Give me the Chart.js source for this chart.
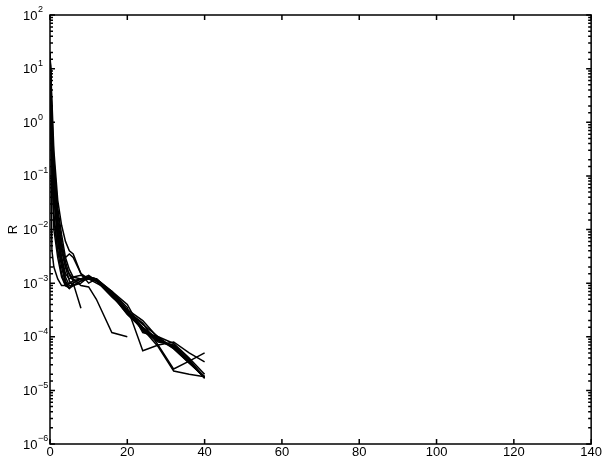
<!DOCTYPE html>
<html>
<head>
<meta charset="utf-8">
<script src="https://cdn.jsdelivr.net/npm/chart.js@4"></script>
<style>
  body { margin: 0; background: #fff; }
</style>
</head>
<body>
<canvas id="myChart" width="603" height="462"></canvas>
<script>
// iteration (x) values shared by all runs
const xs = [0, 0.5, 1, 2, 3, 4, 5, 6, 8, 10, 12, 16, 20, 24, 28, 32, 36, 40]

// residual R for each run
const r1 = [20, 0.6, 0.06, 0.008, 0.003, 0.0013, 0.0009, 0.0009, 0.0011, 0.0013, 0.0012, 6.5e-4, 2.8e-4, 1.5e-4, 9e-5, 6.5e-5, 3.6e-5, 1.7e-5]
const r2 = [18, 0.4, 0.04, 0.006, 0.002, 0.001, 0.0008, 0.001, 0.0012, 0.0012, 0.0011, 6e-4, 2.6e-4, 1.4e-4, 8.5e-5, 6.8e-5, 3.4e-5, 1.7e-5]
const r3 = [20, 1.0, 0.12, 0.015, 0.005, 0.002, 0.0011, 0.0009, 0.001, 0.0013, 0.0012, 7e-4, 3.2e-4, 2e-4, 9.5e-5, 6.2e-5, 3.5e-5, 1.8e-5]
const r4 = [15, 0.3, 0.02, 0.004, 0.0015, 0.0009, 0.0008, 0.001, 0.0012, 0.0014, 0.0011, 5.5e-4, 3e-4, 1.3e-4, 8e-5, 7e-5, 3.8e-5, 1.7e-5]
const r5 = [20, 2.5, 0.3, 0.035, 0.012, 0.006, 0.004, 0.0035, 0.0015, 0.001, 0.0012, 6e-4, 2.9e-4, 1.7e-4, 1e-4, 6e-5, 3.2e-5, 1.8e-5]
const r6 = [10, 0.15, 0.01, 0.003, 0.0013, 0.0009, 0.001, 0.001, 3.4e-4]
const r7 = [20, 0.8, 0.09, 0.012, 0.004, 0.002, 0.0015, 0.0012, 0.0009, 8.5e-4, 5e-4, 1.2e-4, 1e-4]
const r8 = [20, 0.7, 0.07, 0.01, 0.003, 0.0015, 0.0012, 0.0013, 0.0014, 0.0012, 0.001, 7e-4, 3.5e-4, 5.5e-5, 7e-5, 8e-5, 5e-5, 3.4e-5]
const r9 = [20, 0.5, 0.05, 0.007, 0.0025, 0.0011, 0.0008, 0.0009, 0.0011, 0.0012, 0.0012, 6e-4, 2.7e-4, 1.4e-4, 6.5e-5, 2.3e-5, 2e-5, 1.8e-5]
const r10 = [20, 0.9, 0.1, 0.02, 0.006, 0.0025, 0.0014, 0.0011, 0.0012, 0.0013, 0.0011, 6.5e-4, 3e-4, 1.8e-4, 7e-5, 2.5e-5, 3.5e-5, 5e-5]
const r11 = [20, 1.5, 0.2, 0.025, 0.008, 0.003, 0.0018, 0.0013, 0.0012, 0.0013, 0.0012, 7e-4, 4e-4, 1.2e-4, 1e-4, 7.5e-5, 4e-5, 2e-5]
const r12 = [20, 0.2, 0.015, 0.004, 0.0025, 0.003, 0.0035, 0.003, 0.0015, 0.0012, 0.0011, 6e-4, 2.8e-4, 1.4e-4, 9e-5, 6e-5, 3.3e-5, 1.7e-5]
const r13 = [20, 0.004, 0.002, 0.0012, 0.0009, 0.0009, 0.001, 0.0011, 0.0012, 0.0013, 0.0011, 6e-4, 3e-4, 1.5e-4, 8.5e-5, 6.5e-5, 3.5e-5, 1.7e-5]

const runs = [r1, r2, r3, r4, r5, r6, r7, r8, r9, r10, r11, r12, r13]

// axis ticks
const xTicks = [0, 20, 40, 60, 80, 100, 120, 140]
const yDecades = [-6, -5, -4, -3, -2, -1, 0, 1, 2]

const fam = 'Liberation Sans, Arial, sans-serif'

function isDecade(v) {
    let e = Math.log10(v)
    return Math.abs(e - Math.round(e)) < 1e-6
}

// matlab style box, inward ticks on all sides, 10^n labels with raised exponent
const boxTicks = {
    id: 'boxTicks',
    afterDatasetsDraw(chart) {
        const ctx = chart.ctx
        const a = chart.chartArea
        const x = chart.scales.x, y = chart.scales.y
        ctx.save()
        ctx.strokeStyle = '#000'
        ctx.lineWidth = 1.5
        ctx.strokeRect(a.left, a.top, a.right - a.left, a.bottom - a.top)
        ctx.beginPath()
        x.ticks.forEach(t => {
            let px = x.getPixelForValue(t.value)
            ctx.moveTo(px, a.bottom); ctx.lineTo(px, a.bottom - 5)
            ctx.moveTo(px, a.top); ctx.lineTo(px, a.top + 5)
        })
        y.ticks.forEach(t => {
            let len = isDecade(t.value) ? 5 : 3
            let py = y.getPixelForValue(t.value)
            ctx.moveTo(a.left, py); ctx.lineTo(a.left + len, py)
            ctx.moveTo(a.right, py); ctx.lineTo(a.right - len, py)
        })
        ctx.stroke()

        // decade labels
        ctx.fillStyle = '#000'
        ctx.textAlign = 'left'
        ctx.textBaseline = 'middle'
        yDecades.forEach(e => {
            let py = y.getPixelForValue(Math.pow(10, e))
            ctx.font = '13px ' + fam
            ctx.fillText('10', 23, py + 1)
            let w = ctx.measureText('10').width
            ctx.font = '9px ' + fam
            ctx.fillText(String(e).replace('-', '\u2212'), 23 + w + 0.5, py - 5)
        })
        ctx.restore()
    }
}

new Chart("myChart", {
    type: "line",
    data: {
        datasets: runs.map(r => ({
            data: r.map((v, i) => ({ x: xs[i], y: v })),
            borderColor: '#000',
            borderWidth: 1.5,
            pointRadius: 0,
            tension: 0,
            fill: false
        }))
    },
    options: {
        responsive: false,
        animation: false,
        layout: { padding: { top: 15, right: 9, left: 0, bottom: 0 } },
        plugins: { legend: { display: false }, tooltip: { enabled: false } },
        scales: {
            x: {
                type: 'linear', min: 0, max: 140,
                grid: { display: false, drawTicks: false },
                border: { display: false },
                afterBuildTicks: s => { s.ticks = xTicks.map(v => ({ value: v })) },
                ticks: { color: '#000', font: { family: fam, size: 13 }, padding: 1, autoSkip: false, maxRotation: 0 },
                afterFit: s => { s.height = 18 }
            },
            y: {
                type: 'logarithmic', min: 1e-6, max: 100,
                grid: { display: false, drawTicks: false },
                border: { display: false },
                ticks: { display: false, autoSkip: false },
                title: { display: true, text: 'R', color: '#000', font: { family: fam, size: 13 }, padding: { top: 6, bottom: 0 } },
                afterFit: s => { s.width = 50 }
            }
        }
    },
    plugins: [boxTicks]
});
</script>
</body>
</html>
